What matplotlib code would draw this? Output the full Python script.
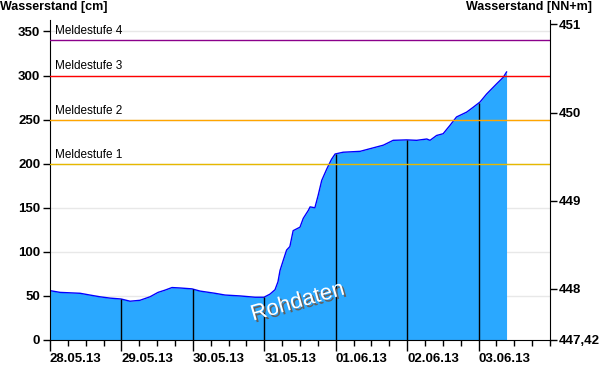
"""Wasserstand chart with Meldestufen thresholds."""
import matplotlib
matplotlib.use("Agg")
import matplotlib.pyplot as plt
import matplotlib.patheffects as pe
import matplotlib.transforms as mtrans
import numpy as np

# hours since 28.05.13 00:00 and water level in cm
hours = [0, 3.4, 10.1, 13.4, 16.8, 20.2, 23.9, 26.9, 30.2, 33.6, 36.3, 38.6, 41.0,
         43.7, 47.7, 50.4, 55.4, 58.8, 63.8, 68.9, 71.9, 73.9, 75.6, 76.6, 77.3,
         78.4, 79.5, 80.6, 81.7, 84.0, 85.1, 86.8, 87.4, 89.0, 90.1, 91.3, 93.0,
         94.6, 95.8, 98.5, 104.2, 112.0, 115.3, 119.8, 123.2, 126.6, 127.7, 129.9,
         132.1, 134.4, 136.6, 140.0, 142.2, 144.5, 146.7, 150.1, 152.3, 153.4]
level = [56, 54, 53, 51, 49, 47.5, 46.5, 44, 45, 49, 54, 56.5, 59.5,
         59, 58, 55.5, 53, 51, 50, 48.5, 48.5, 52, 57, 66, 79,
         90.6, 102, 106, 124, 128, 138, 147, 151, 150, 164, 181, 194,
         205, 211, 213, 214, 221, 226.5, 227, 226.5, 228, 226.5, 232,
         234, 243.5, 253, 258.5, 264, 270, 279, 290.7, 298, 304]

day_labels = ["28.05.13", "29.05.13", "30.05.13", "31.05.13",
              "01.06.13", "02.06.13", "03.06.13"]
stufen = [200, 250, 300, 340]
stufen_names = ["Meldestufe 1", "Meldestufe 2", "Meldestufe 3", "Meldestufe 4"]
stufen_colors = ["#E6B800", "#FFA500", "#FF0000", "#8B008B"]
nn_offset = 447.42  # Pegelnullpunkt [NN+m]
right_ticks = [447.42, 448, 449, 450, 451]
right_labels = ["447,42", "448", "449", "450", "451"]

plt.rcParams["font.family"] = ["Liberation Sans", "DejaVu Sans"]

h = np.array(hours) / 24.0
v = np.array(level)
ymax = 363

fig = plt.figure(figsize=(6, 3.84), dpi=100)
ax = fig.add_axes([50 / 600, 44 / 384, 500 / 600, 320 / 384])

for g in range(50, 351, 50):
    ax.axhline(g, color="#E8E8E8", linewidth=1, zorder=0)

ax.fill_between(h, 0, v, color="#2AA8FF", linewidth=0, zorder=1)
ax.plot(h, v, color="#0000FF", linewidth=1, zorder=2)

# day separators up to the curve
days = np.arange(1, 7)
ax.vlines(days, 0, np.interp(days, h, v), color="black", linewidth=1, zorder=3)

for val, name, col in zip(stufen, stufen_names, stufen_colors):
    ax.axhline(val, color=col, linewidth=1, zorder=4)
    ax.text(5 / 71.43, val + 3.5, name, fontsize=8.5, color="black", va="bottom", ha="left")

ax.text(3.47, 43, "Rohdaten", fontsize=16, color="white", rotation=16,
        ha="center", va="center", zorder=5,
        path_effects=[pe.withSimplePatchShadow(offset=(1.5, -1.5), shadow_rgbFace="#606060", alpha=1)])

ax.set_xlim(0, 7)
ax.set_ylim(0, ymax)
ax.set_xticks(range(7))
ax.set_xticklabels(day_labels, fontweight="bold", fontsize=9.5, ha="left")
shift = mtrans.ScaledTranslation(-3 / 100, 0, fig.dpi_scale_trans)
for lbl in ax.get_xticklabels():
    lbl.set_transform(lbl.get_transform() + shift)
ax.set_xticks(np.arange(0, 7.01, 0.25), minor=True)
ax.set_yticks(range(0, 351, 50))
ax.set_yticklabels([str(t) for t in range(0, 351, 50)], fontweight="bold", fontsize=9.5)
ax.tick_params(axis="x", which="major", length=8, width=1, pad=1)
ax.tick_params(axis="x", which="minor", length=4, width=1)
ax.tick_params(axis="y", length=5, width=1, pad=2)
ax.spines["top"].set_visible(False)
ax.spines["right"].set_visible(False)

ax2 = ax.twinx()
ax2.set_ylim(nn_offset, nn_offset + ymax / 100)
ax2.set_yticks(right_ticks)
ax2.set_yticklabels(right_labels, fontweight="bold", fontsize=9.5)
ax2.tick_params(axis="y", length=5, width=1, pad=1)
ax2.spines["top"].set_visible(False)
ax2.spines["left"].set_visible(False)
ax2.spines["bottom"].set_visible(False)

fig.text(0, 1 - 7 / 384, "Wasserstand [cm]", fontweight="bold", fontsize=9, va="center", ha="left")
fig.text(592 / 600, 1 - 7 / 384, "Wasserstand [NN+m]", fontweight="bold", fontsize=9, va="center", ha="right")

fig.savefig("out.png", dpi=100)
